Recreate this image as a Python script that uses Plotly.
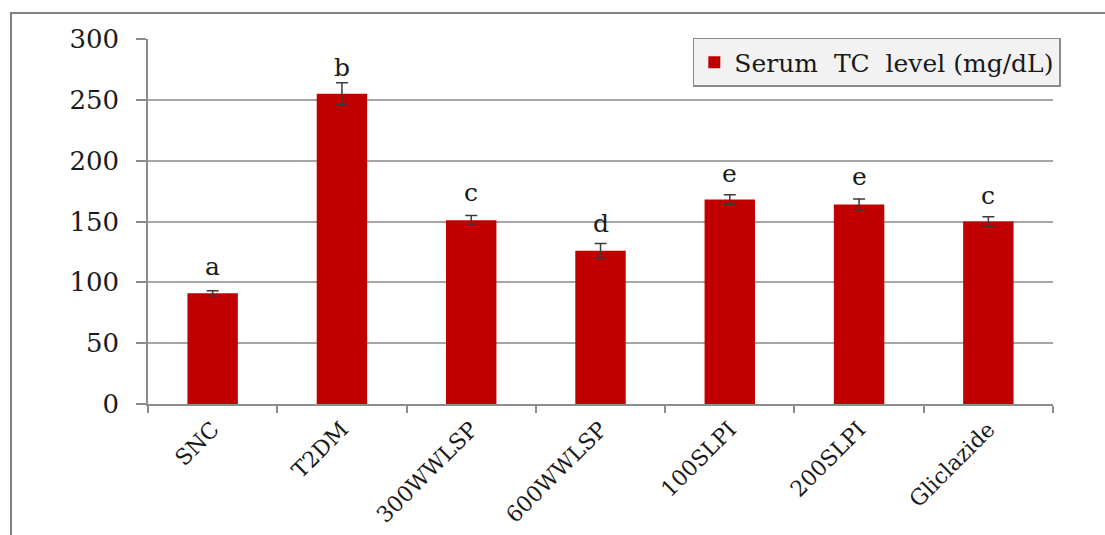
import plotly.graph_objects as go

# Groups and serum total cholesterol (mean ± error)
groups = ["SNC", "T2DM", "300WWLSP", "600WWLSP", "100SLPI", "200SLPI", "Gliclazide"]
tc_level = [91, 255, 151, 126, 168, 164, 150]
tc_error = [2, 9, 4, 6, 4, 4.5, 4]

# Significance letters and the heights (mg/dL) at which they sit
sig_letters = ["a", "b", "c", "d", "e", "e", "c"]
letter_y = [104, 268, 165, 140, 181, 178, 163]

y_ticks = [0, 50, 100, 150, 200, 250, 300]

FONT = "DejaVu Serif"
BAR = "#C00000"
GRID = "#A6A6A6"

fig = go.Figure()
fig.add_trace(go.Bar(
    x=groups,
    y=tc_level,
    name="Serum  TC  level (mg/dL)",
    marker=dict(color=BAR, line=dict(width=0)),
    width=0.39,
    error_y=dict(type="data", array=tc_error, visible=True,
                 color="#3a3a3a", thickness=1.5, width=6),
))

for g, lab, ly in zip(groups, sig_letters, letter_y):
    fig.add_annotation(x=g, y=ly, text=lab, showarrow=False,
                       yanchor="bottom", yshift=-6,
                       font=dict(family=FONT, size=25, color="#1a1a1a"))

# outer frame around the figure
fig.add_shape(type="rect", xref="paper", yref="paper",
              x0=-0.1514, x1=1.3, y0=-0.7, y1=1.0712,
              line=dict(color="#7f7f7f", width=2), layer="above")

fig.update_layout(
    width=1105, height=535,
    margin=dict(l=148, r=52, t=39, b=131, autoexpand=False),
    paper_bgcolor="white", plot_bgcolor="white",
    showlegend=True,
    legend=dict(x=0.602, y=1.003, xanchor="left", yanchor="top",
                bgcolor="#F2F2F2", bordercolor="#8c8c8c", borderwidth=1.5,
                font=dict(family=FONT, size=25, color="#1a1a1a"),
                itemsizing="constant"),
)

fig.update_yaxes(
    range=[0, 300], tickvals=y_ticks,
    showgrid=True, gridcolor=GRID, gridwidth=1.5,
    showline=True, linecolor="#8c8c8c", linewidth=1.5,
    ticks="outside", ticklen=10, tickcolor="#8c8c8c", tickwidth=1.5,
    ticklabelstandoff=12, automargin=False,
    tickfont=dict(family=FONT, size=26, color="#1a1a1a"),
    zeroline=False,
)
fig.update_xaxes(
    showline=True, linecolor="#8c8c8c", linewidth=1.5,
    ticks="outside", ticklen=7, tickcolor="#8c8c8c", tickwidth=1.5,
    tickson="boundaries", tickangle=-45, automargin=False,
    ticklabelstandoff=2,
    tickfont=dict(family=FONT, size=22, color="#1a1a1a"),
    showgrid=False,
)

fig.write_html("out.html")
